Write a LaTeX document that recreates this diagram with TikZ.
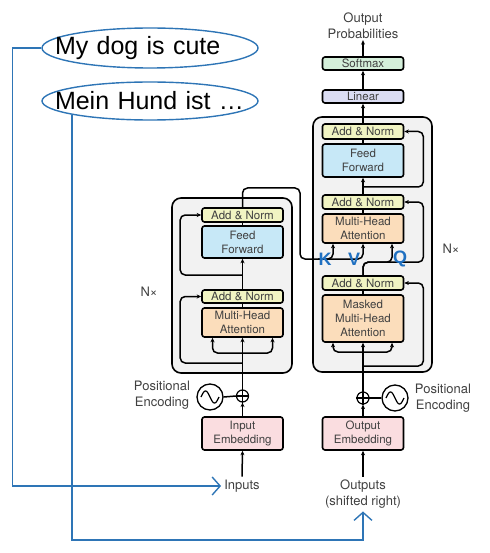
\documentclass[tikz,border=0pt]{standalone}
\usepackage{fontspec}
\setmainfont{TeX Gyre Heros}
\newfontfamily\arialfont{Liberation Sans}
\usetikzlibrary{arrows.meta,shapes.geometric,calc}
\definecolor{cAN}{HTML}{F1F4C3}
\definecolor{cFF}{HTML}{C7E8F7}
\definecolor{cMHA}{HTML}{FBDDBB}
\definecolor{cEMB}{HTML}{FADDE0}
\definecolor{cSM}{HTML}{D4EFDA}
\definecolor{cLIN}{HTML}{DBDDF3}
\definecolor{cBG}{HTML}{F2F2F2}
\definecolor{cBlue}{HTML}{2E75B6}
\definecolor{cKVQ}{HTML}{1F70C1}
\definecolor{labgray}{HTML}{404040}
\begin{document}
\begin{tikzpicture}[x=1pt,y=-1pt,
  lbl/.style={text=labgray, font=\fontsize{13}{16}\selectfont, align=center, inner sep=1pt},
  blk/.style={draw, line width=1.6pt, rounded corners=2.5pt, minimum width=81pt, align=center, text=labgray, font=\fontsize{11.5}{14}\selectfont, inner sep=0pt},
  anbox/.style={blk, fill=cAN},
  ffbox/.style={blk, fill=cFF},
  mhabox/.style={blk, fill=cMHA},
  embbox/.style={blk, fill=cEMB},
  conn/.style={line width=1.5pt, -{Stealth[length=4.5pt,width=4pt]}, rounded corners=5pt},
  plain/.style={line width=1.5pt, rounded corners=5pt},
  stack/.style={draw, line width=1.6pt, fill=cBG, rounded corners=9pt, inner sep=0pt},
  sinc/.style={draw, circle, line width=1.3pt, minimum size=26pt, inner sep=0pt},
  plusc/.style={draw, circle, line width=1.2pt, minimum size=12pt, inner sep=0pt},
  kvq/.style={text=cKVQ, font=\arialfont\bfseries\fontsize{18}{20}\selectfont, inner sep=0pt},
  sent/.style={draw=cBlue, line width=1.4pt, ellipse, minimum width=216pt, inner sep=0pt},
  senttxt/.style={text width=190pt, align=left, inner sep=0pt, font=\arialfont\fontsize{25}{28}\selectfont},
  blueline/.style={draw=cBlue, line width=1.4pt},
  bluetip/.style={-{Straight Barb[length=8pt,width=18pt,line width=1.4pt]}},
  nx/.style={text=labgray, font=\fontsize{13}{16}\selectfont, inner sep=0pt}
]
\useasboundingbox (0,0) rectangle (489,553);

% stacks
\node[stack, minimum width=120pt, minimum height=175pt] (encbox) at (232,285.5) {};
\node[stack, minimum width=119pt, minimum height=255pt] (decbox) at (372.5,244.5) {};

% encoder blocks
\node[anbox, minimum height=14pt] (eAN1) at (242.5,215) {Add \& Norm};
\node[ffbox, minimum height=32pt] (eFF) at (242.5,242) {Feed\\Forward};
\node[anbox, minimum height=13pt] (eAN2) at (242.5,296.5) {Add \& Norm};
\node[mhabox, minimum height=29pt] (eMHA) at (242.5,322.5) {Multi-Head\\Attention};
\node[embbox, minimum height=33pt] (eEmb) at (242.5,433.5) {Input\\Embedding};
\node[plusc] (eplus) at (242.5,396) {};
\node[sinc] (esin) at (210,397) {};
\node[lbl] (epos) at (162,395) {Positional\\Encoding};
\node[lbl, inner sep=3pt] (inputs) at (242,486) {Inputs};
\node[nx] (enx) at (149,292) {N×};

% decoder blocks
\node[anbox, minimum height=15pt] (dAN1) at (363,131.5) {Add \& Norm};
\node[ffbox, minimum height=33pt] (dFF) at (363,160.5) {Feed\\Forward};
\node[anbox, minimum height=14pt] (dAN2) at (363,202) {Add \& Norm};
\node[mhabox, minimum height=29pt] (dMHA) at (363,228.5) {Multi-Head\\Attention};
\node[anbox, minimum height=14pt] (dAN3) at (363,283) {Add \& Norm};
\node[mhabox, minimum height=47pt] (dMMHA) at (363,318.5) {Masked\\Multi-Head\\Attention};
\node[embbox, minimum height=33pt] (dEmb) at (363,433.5) {Output\\Embedding};
\node[plusc] (dplus) at (363,398) {};
\node[sinc] (dsin) at (395,398) {};
\node[lbl] (dpos) at (443,398) {Positional\\Encoding};
\node[lbl, inner sep=3pt] (outputs) at (363,494) {Outputs\\(shifted right)};
\node[nx] (dnx) at (451,249) {N×};
\node[blk, fill=cLIN, minimum height=13pt] (linear) at (363,96.5) {Linear};
\node[blk, fill=cSM, minimum height=13pt] (softmax) at (363,63.5) {Softmax};
\node[lbl] (outprob) at (363,26) {Output\\Probabilities};

% plus signs and sine waves
\draw[line width=1.1pt] (eplus.north) -- (eplus.south) (eplus.west) -- (eplus.east);
\draw[line width=1.1pt] (dplus.north) -- (dplus.south) (dplus.west) -- (dplus.east);
\draw[line width=1.2pt, shift={(esin.center)}] plot[domain=-9:9, samples=40, smooth] (\x,{6*sin(20*\x)});
\draw[line width=1.2pt, shift={(dsin.center)}] plot[domain=-9:9, samples=40, smooth] (\x,{6*sin(20*\x)});
\draw[line width=1.5pt] (esin.east) -- (eplus.west);
\draw[line width=1.5pt] (dsin.west) -- (dplus.east);

% encoder connectors
\draw[conn] (inputs.north) -- (eEmb.south);
\draw[conn] (eEmb.north) -- (eplus.south);
\draw[conn] (eplus.north) -- (eMHA.south);
\coordinate (eb1) at (242.5,363);
\draw[conn] (eb1) -| ($(eAN2.west)+(-21,0)$) -- (eAN2.west);
\coordinate (ea1) at (242.5,353);
\draw[conn] (ea1) -| ($(eMHA.south)+(-30,0)$);
\draw[conn] (ea1) -| ($(eMHA.south)+(30,0)$);
\draw[line width=1.5pt] (eMHA.north) -- (eAN2.south);
\draw[conn] (eAN2.north) -- (eFF.south);
\coordinate (eb2) at (242.5,275);
\draw[conn] (eb2) -| ($(eAN1.west)+(-21,0)$) -- (eAN1.west);
\draw[line width=1.5pt] (eFF.north) -- (eAN1.south);
\coordinate (eo1) at (300,188);
\coordinate (eo2) at (300,259);
\draw[conn] (eAN1.north) |- (eo1) -- (eo2) -| (dMHA.south);
\coordinate (kb) at (318,259);
\draw[conn] (kb) -| ($(dMHA.south)+(-30,0)$);

% decoder connectors
\draw[conn] (outputs.north) -- (dEmb.south);
\draw[conn] (dEmb.north) -- (dplus.south);
\draw[conn] (dplus.north) -- (dMMHA.south);
\coordinate (db1) at (363,366);
\draw[conn] (db1) -| ($(dAN3.east)+(19,0)$) -- (dAN3.east);
\coordinate (da1) at (363,352);
\draw[conn] (da1) -| ($(dMMHA.south)+(-30,0)$);
\draw[conn] (da1) -| ($(dMMHA.south)+(29,0)$);
\draw[line width=1.5pt] (dMMHA.north) -- (dAN3.south);
\draw[conn] (dAN3.north) -- ++(0,-13) -| ($(dMHA.south)+(29,0)$);
\draw[conn] (dAN3.north) -- ++(0,-13) -| ($(dAN2.east)+(19,0)$) -- (dAN2.east);
\draw[line width=1.5pt] (dMHA.north) -- (dAN2.south);
\draw[conn] (dAN2.north) -- (dFF.south);
\coordinate (db2) at (363,187);
\draw[conn] (db2) -| ($(dAN1.east)+(19,0)$) -- (dAN1.east);
\draw[line width=1.5pt] (dFF.north) -- (dAN1.south);
\draw[conn] (dAN1.north) -- (linear.south);
\draw[conn] (linear.north) -- (softmax.south);
\draw[conn] (softmax.north) -- (outprob.south);

% K V Q
\node[kvq] (klab) at (325,259) {K};
\node[kvq] (vlab) at (354,259) {V};
\node[kvq] (qlab) at (400,259) {Q};

% sentences
\node[sent, minimum height=40pt] (s1) at (150,48) {};
\node[senttxt] (t1) at (150,48) {My dog is cute};
\node[sent, minimum height=38pt] (s2) at (150,101) {};
\node[senttxt] (t2) at (150,101) {Mein Hund ist …};
\coordinate (bb) at (0,540);
\draw[blueline, bluetip] (s1.west) -- ++(-29,0) |- (inputs.west);
\draw[blueline, bluetip] (s2.190) -- (s2.190 |- bb) -| (outputs.south);
\end{tikzpicture}
\end{document}
